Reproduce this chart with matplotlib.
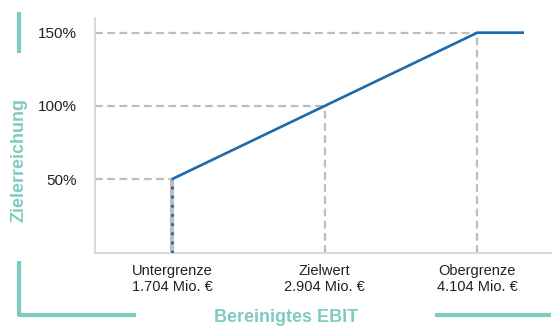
import matplotlib
matplotlib.use("Agg")
import matplotlib.pyplot as plt
from matplotlib.lines import Line2D

plt.rcParams["font.family"] = ["Liberation Sans", "DejaVu Sans"]

# EBIT thresholds (Mio. EUR) and target achievement (%)
ebit_points = [1.704, 2.904, 4.104]
achievement = [50, 100, 150]
tick_labels = ["Untergrenze\n1.704 Mio. €", "Zielwert\n2.904 Mio. €", "Obergrenze\n4.104 Mio. €"]
cap_end = 4.47
y_ticks = [50, 100, 150]
y_tick_labels = ["50%", "100%", "150%"]

TEAL = "#80cbbf"
BLUE = "#1c69ab"
GRID = "#bdbdbd"
SPINE = "#d2d2d2"

W, H = 552, 326
fig = plt.figure(figsize=(W / 100, H / 100), dpi=100)
ax = fig.add_axes([95 / W, 1 - 252.5 / H, (W - 95) / W, (252.5 - 18) / H])
ax.set_xlim(1.1, 4.69)
ax.set_ylim(0, 160)

# guide lines from the axes to each threshold
dash = (0, (3.5, 2))
for x, y in zip(ebit_points, achievement):
    ax.plot([ax.get_xlim()[0], x], [y, y], color=GRID, lw=1.6, ls=dash, zorder=1)
    if x == ebit_points[0]:
        ax.plot([x, x], [0, y], color=GRID, lw=3, zorder=1, solid_capstyle="butt")
    else:
        ax.plot([x, x], [0, y], color=GRID, lw=1.6, ls=dash, zorder=1)

# payout curve
ax.plot([ebit_points[0], ebit_points[0]], [0, achievement[0]], color=BLUE, lw=2,
        ls=(0, (1, 2.3)), zorder=3)
ax.plot(ebit_points + [cap_end], achievement + [achievement[-1]], color=BLUE, lw=1.9,
        zorder=3, solid_capstyle="butt")

ax.set_yticks(y_ticks)
ax.set_yticklabels(y_tick_labels, fontsize=11, color="#222222")
ax.set_xticks(ebit_points)
ax.set_xticklabels(tick_labels, fontsize=10.5, color="#222222", linespacing=1.25)
ax.tick_params(axis="y", length=0, pad=13)
ax.tick_params(axis="x", length=0, pad=8)

for side in ("top", "right"):
    ax.spines[side].set_visible(False)
for side in ("left", "bottom"):
    ax.spines[side].set_color(SPINE)
    ax.spines[side].set_linewidth(1.2)

# axis titles
fig.text(19 / W, 1 - 160 / H, "Zielerreichung", rotation=90, ha="center", va="center",
         fontsize=13, fontweight="bold", color=TEAL)
fig.text(286 / W, 1 - 317 / H, "Bereinigtes EBIT", ha="center", va="center",
         fontsize=13, fontweight="bold", color=TEAL)

# teal frame accents
def px_line(xs, ys):
    fig.add_artist(Line2D([x / W for x in xs], [1 - y / H for y in ys], color=TEAL,
                          lw=3, solid_capstyle="butt", transform=fig.transFigure))

px_line([19, 19], [12, 53])
px_line([19, 19, 136], [261, 315, 315])
px_line([435, 551], [315, 315])

fig.savefig("out.png", dpi=100)
